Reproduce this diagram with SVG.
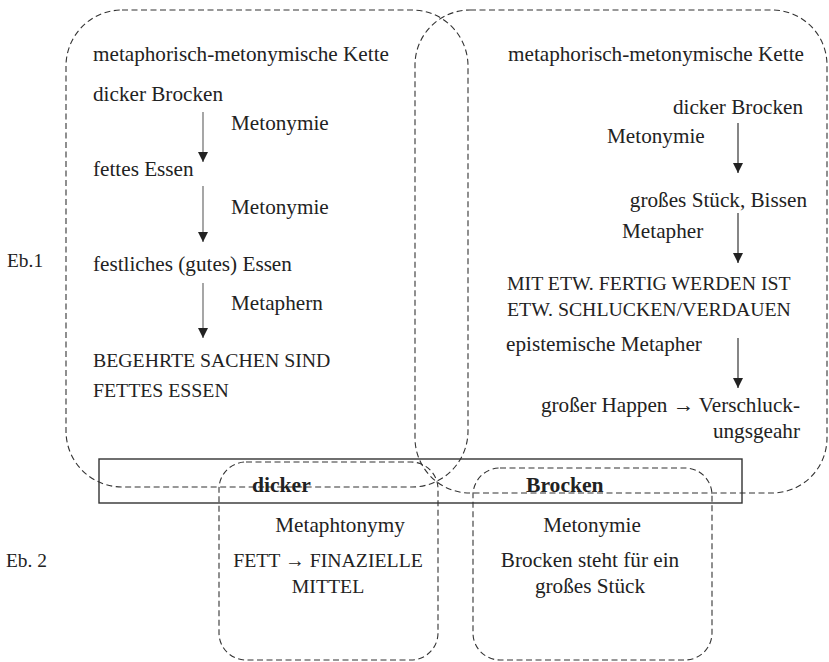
<svg xmlns="http://www.w3.org/2000/svg" width="829" height="662" viewBox="0 0 829 662">
  <style>
    text { font-family: 'Liberation Serif', 'DejaVu Serif', serif; font-size: 21.2px; fill: #222; }
    .cap { font-size: 19.8px; }
    .lbl { font-size: 19.4px; }
    .b { font-weight: bold; font-size: 21.6px; }
    .m { text-anchor: middle; }
    .e { text-anchor: end; }
    .dash { fill: none; stroke: #333; stroke-width: 1.1; stroke-dasharray: 6 3.5; }
    .frame { fill: none; stroke: #333; stroke-width: 1.4; }
    .arr { stroke: #777; stroke-width: 1.3; fill: none; marker-end: url(#head); }
    .arr2 { stroke: #444; }
  </style>
  <defs>
    <marker id="head" markerUnits="userSpaceOnUse" markerWidth="11" markerHeight="11" refX="10" refY="5" orient="auto">
      <path d="M0,0 L10,5 L0,10 z" fill="#222"/>
    </marker>
  </defs>
  <rect width="829" height="662" fill="#fff"/>

  <!-- level labels -->
  <g id="labels">
    <text class="lbl" x="7" y="267">Eb.1</text>
    <text class="lbl" x="6" y="567">Eb. 2</text>
  </g>

  <!-- left chain: dicker Brocken -> festliches Essen -->
  <g id="chain-left">
    <rect class="dash" x="66" y="10" width="402" height="477" rx="56" ry="56"/>
    <text x="93" y="61">metaphorisch-metonymische Kette</text>
    <text x="93" y="101">dicker Brocken</text>
    <text x="231" y="130">Metonymie</text>
    <text x="93" y="176">fettes Essen</text>
    <text x="231" y="214">Metonymie</text>
    <text x="93" y="271">festliches (gutes) Essen</text>
    <text x="231" y="310">Metaphern</text>
    <text class="cap" x="93" y="367">BEGEHRTE SACHEN SIND</text>
    <text class="cap" x="93" y="397">FETTES ESSEN</text>
  </g>

  <!-- right chain: dicker Brocken -> Verschluckungsgefahr -->
  <g id="chain-right">
    <rect class="dash" x="415" y="10" width="412" height="483" rx="55" ry="55"/>
    <text x="508" y="61">metaphorisch-metonymische Kette</text>
    <text class="e" x="803" y="114">dicker Brocken</text>
    <text x="607" y="143">Metonymie</text>
    <text class="e" x="807" y="207">großes Stück, Bissen</text>
    <text x="622" y="238">Metapher</text>
    <text class="cap" x="507" y="290">MIT ETW. FERTIG WERDEN IST</text>
    <text class="cap" x="507" y="316">ETW. SCHLUCKEN/VERDAUEN</text>
    <text x="506" y="351">epistemische Metapher</text>
    <text class="e" x="800" y="412">großer Happen → Verschluck-</text>
    <text class="e" x="800" y="438">ungsgeahr</text>
  </g>

  <!-- word band -->
  <g id="word-band">
    <rect class="frame" x="99" y="459" width="643" height="44"/>
  </g>

  <g id="word-dicker">
    <rect class="dash" x="219" y="462" width="219" height="198" rx="27" ry="27"/>
    <text class="b" x="252" y="492">dicker</text>
    <text class="m" x="340" y="532">Metaphtonymy</text>
    <text class="m cap" x="328" y="567">FETT → FINAZIELLE</text>
    <text class="m cap" x="328" y="593">MITTEL</text>
  </g>

  <g id="word-brocken">
    <rect class="dash" x="473" y="468" width="239" height="192" rx="27" ry="27"/>
    <text class="b" x="526" y="492">Brocken</text>
    <text class="m" x="592" y="532">Metonymie</text>
    <text class="m" x="590" y="567">Brocken steht für ein</text>
    <text class="m" x="590" y="593">großes Stück</text>
  </g>

  <!-- connectors -->
  <g id="connectors">
    <line class="arr" x1="203" y1="112" x2="203" y2="162"/>
    <line class="arr" x1="203" y1="186" x2="203" y2="242"/>
    <line class="arr" x1="203" y1="283" x2="203" y2="338"/>
    <line class="arr arr2" x1="738" y1="123" x2="738" y2="173"/>
    <line class="arr arr2" x1="738" y1="213" x2="738" y2="263"/>
    <line class="arr arr2" x1="738" y1="338" x2="738" y2="388"/>
  </g>
</svg>
